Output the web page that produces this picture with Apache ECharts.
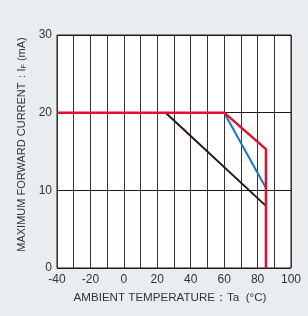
<!DOCTYPE html>
<html>
<head>
<meta charset="utf-8">
<script src="https://cdn.jsdelivr.net/npm/echarts@6/dist/echarts.min.js"></script>
<style>
  html, body { margin: 0; padding: 0; background: #e9edf0; }
  #chart { width: 308px; height: 316px; }
</style>
</head>
<body>
<div id="chart"></div>
<script>
// derating curves, x = ambient temperature (°C), y = max forward current (mA)
const redX = [-40, 60, 85, 85];
const redY = [20, 20, 15.3, 0];
const blueX = [60, 85];
const blueY = [20, 10.3];
const blackX = [25, 85];
const blackY = [20, 8];

const xTicks = [-40, -20, 0, 20, 40, 60, 80, 100];
const yTicks = [0, 10, 20, 30];

function pairs(xs, ys) {
  return xs.map((x, i) => [x, ys[i]]);
}

let chart = echarts.init(document.getElementById('chart'));
let option = {
  backgroundColor: '#e9edf0',
  animation: false,
  textStyle: { fontFamily: 'Liberation Sans, Arial, sans-serif' },
  grid: {
    left: 57, right: 17, top: 35, bottom: 48,
    show: true,
    backgroundColor: '#fff',
    borderColor: '#231815',
    borderWidth: 1,
  },
  xAxis: {
    type: 'value',
    min: -40,
    max: 100,
    interval: 10,
    axisLine: { show: false },
    axisTick: { show: false },
    splitLine: { lineStyle: { color: '#3a3330', width: 1 } },
    axisLabel: {
      color: '#333',
      fontSize: 12,
      margin: 6,
      formatter: (v) => (xTicks.indexOf(v) >= 0 ? String(v) : ''),
    },
    name: 'AMBIENT TEMPERATURE：Ta  (°C)',
    nameLocation: 'middle',
    nameGap: 24,
    nameTextStyle: { color: '#333', fontSize: 11.6, padding: [0, 8, 0, 0] },
  },
  yAxis: {
    type: 'value',
    min: 0,
    max: 30,
    interval: 10,
    axisLine: { show: false },
    axisTick: { show: false },
    splitLine: { lineStyle: { color: '#231815', width: 1 } },
    axisLabel: {
      color: '#333',
      fontSize: 12,
      margin: 5,
      formatter: (v) => (yTicks.indexOf(v) >= 0 ? String(v) : ''),
    },
    name: '{a|MAXIMUM FORWARD CURRENT：I}{s|F}{a| (mA)}',
    nameLocation: 'middle',
    nameRotate: 90,
    nameGap: 29,
    nameTextStyle: {
      padding: [0, 0, 0, 14],
      rich: {
        a: { color: '#333', fontSize: 11, fontFamily: 'Liberation Sans, Arial, sans-serif' },
        s: { color: '#333', fontSize: 7, verticalAlign: 'bottom', fontFamily: 'Liberation Sans, Arial, sans-serif' },
      },
    },
  },
  series: [
    {
      name: 'black',
      type: 'line',
      data: pairs(blackX, blackY),
      symbol: 'none',
      lineStyle: { color: '#231815', width: 2 },
    },
    {
      name: 'blue',
      type: 'line',
      data: pairs(blueX, blueY),
      symbol: 'none',
      lineStyle: { color: '#1b78c0', width: 2 },
    },
    {
      name: 'red',
      type: 'line',
      data: pairs(redX, redY),
      symbol: 'none',
      lineStyle: { color: '#e2102c', width: 2.5 },
    },
  ],
};
chart.setOption(option);
</script>
</body>
</html>
